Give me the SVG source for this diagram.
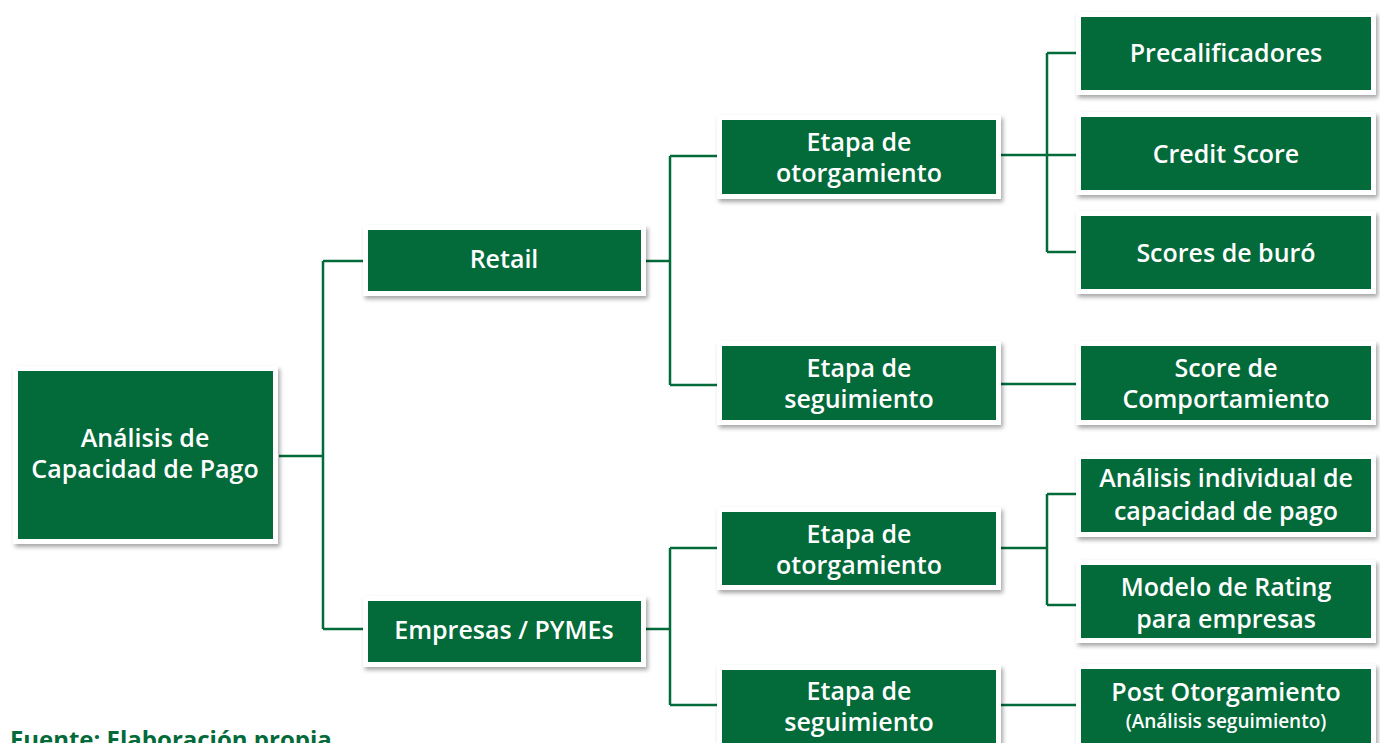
<svg xmlns="http://www.w3.org/2000/svg" width="1380" height="743" viewBox="0 0 1380 743">
<defs>
<filter id="sh" x="-10%" y="-10%" width="125%" height="135%">
<feDropShadow dx="2" dy="3" stdDeviation="2" flood-color="#000" flood-opacity="0.35"/>
</filter>
<style>
.o{fill:#fff;filter:url(#sh)}
.g{fill:#036a3a}
.t{fill:#fff;font-family:"Open Sans","Noto Sans",sans-serif;font-weight:600;font-size:25px;text-anchor:middle}
.s{font-size:19px}
.c{fill:none;stroke:#036a3a;stroke-width:2.5}
.f{fill:#036a3a;font-family:"Open Sans","Noto Sans",sans-serif;font-weight:700;font-size:24px}
</style>
</defs>
<rect width="1380" height="743" fill="#fff"/>
<g id="connectors">
<path class="c" d="M279,456H323M323,261V629M323,261H363M323,629H363"/>
<path class="c" d="M646,261H670M670,156V385M670,156H717M670,385H717"/>
<path class="c" d="M646,629H670M670,548V705M670,548H717M670,705H717"/>
<path class="c" d="M1001,155H1076M1047,53V252M1047,53H1076M1047,252H1076"/>
<path class="c" d="M1001,384H1076"/>
<path class="c" d="M1001,548H1047M1047,494V605M1047,494H1076M1047,605H1076"/>
<path class="c" d="M1001,705H1076"/>
</g>
<g id="root">
<rect class="o" x="13" y="366" width="265" height="178"/>
<rect class="g" x="18" y="371" width="255" height="168"/>
<text class="t" x="145" y="447">Análisis de</text>
<text class="t" x="145" y="478">Capacidad de Pago</text>
</g>
<g id="retail">
<rect class="o" x="363" y="225" width="283" height="71"/>
<rect class="g" x="368" y="230" width="273" height="61"/>
<text class="t" x="504" y="268">Retail</text>
</g>
<g id="empresas">
<rect class="o" x="363" y="596" width="283" height="71"/>
<rect class="g" x="368" y="601" width="273" height="61"/>
<text class="t" x="504" y="639">Empresas / PYMEs</text>
</g>
<g id="retail-otorgamiento">
<rect class="o" x="717" y="115" width="284" height="84"/>
<rect class="g" x="722" y="120" width="274" height="74"/>
<text class="t" x="859" y="151">Etapa de</text>
<text class="t" x="859" y="182">otorgamiento</text>
</g>
<g id="retail-seguimiento">
<rect class="o" x="717" y="341" width="284" height="84"/>
<rect class="g" x="722" y="346" width="274" height="74"/>
<text class="t" x="859" y="377">Etapa de</text>
<text class="t" x="859" y="408">seguimiento</text>
</g>
<g id="empresas-otorgamiento">
<rect class="o" x="717" y="507" width="284" height="83"/>
<rect class="g" x="722" y="512" width="274" height="73"/>
<text class="t" x="859" y="543">Etapa de</text>
<text class="t" x="859" y="574">otorgamiento</text>
</g>
<g id="empresas-seguimiento">
<rect class="o" x="717" y="665" width="284" height="95"/>
<rect class="g" x="722" y="670" width="274" height="90"/>
<text class="t" x="859" y="700">Etapa de</text>
<text class="t" x="859" y="731">seguimiento</text>
</g>
<g id="precalificadores">
<rect class="o" x="1076" y="12" width="300" height="83"/>
<rect class="g" x="1081" y="17" width="290" height="73"/>
<text class="t" x="1226" y="62">Precalificadores</text>
</g>
<g id="credit-score">
<rect class="o" x="1076" y="112" width="300" height="83"/>
<rect class="g" x="1081" y="117" width="290" height="73"/>
<text class="t" x="1226" y="163">Credit Score</text>
</g>
<g id="scores-buro">
<rect class="o" x="1076" y="211" width="300" height="83"/>
<rect class="g" x="1081" y="216" width="290" height="73"/>
<text class="t" x="1226" y="262">Scores de buró</text>
</g>
<g id="score-comportamiento">
<rect class="o" x="1076" y="341" width="300" height="84"/>
<rect class="g" x="1081" y="346" width="290" height="74"/>
<text class="t" x="1226" y="377">Score de</text>
<text class="t" x="1226" y="408">Comportamiento</text>
</g>
<g id="analisis-individual">
<rect class="o" x="1076" y="454" width="300" height="83"/>
<rect class="g" x="1081" y="459" width="290" height="73"/>
<text class="t" x="1226" y="487">Análisis individual de</text>
<text class="t" x="1226" y="520">capacidad de pago</text>
</g>
<g id="modelo-rating">
<rect class="o" x="1076" y="560" width="300" height="83"/>
<rect class="g" x="1081" y="565" width="290" height="73"/>
<text class="t" x="1226" y="596">Modelo de Rating</text>
<text class="t" x="1226" y="628">para empresas</text>
</g>
<g id="post-otorgamiento">
<rect class="o" x="1076" y="664" width="300" height="96"/>
<rect class="g" x="1081" y="669" width="290" height="91"/>
<text class="t" x="1226" y="701">Post Otorgamiento</text>
<text class="t s" x="1226" y="728">(Análisis seguimiento)</text>
</g>
<text class="f" x="10" y="748">Fuente: Elaboración propia</text>
</svg>
